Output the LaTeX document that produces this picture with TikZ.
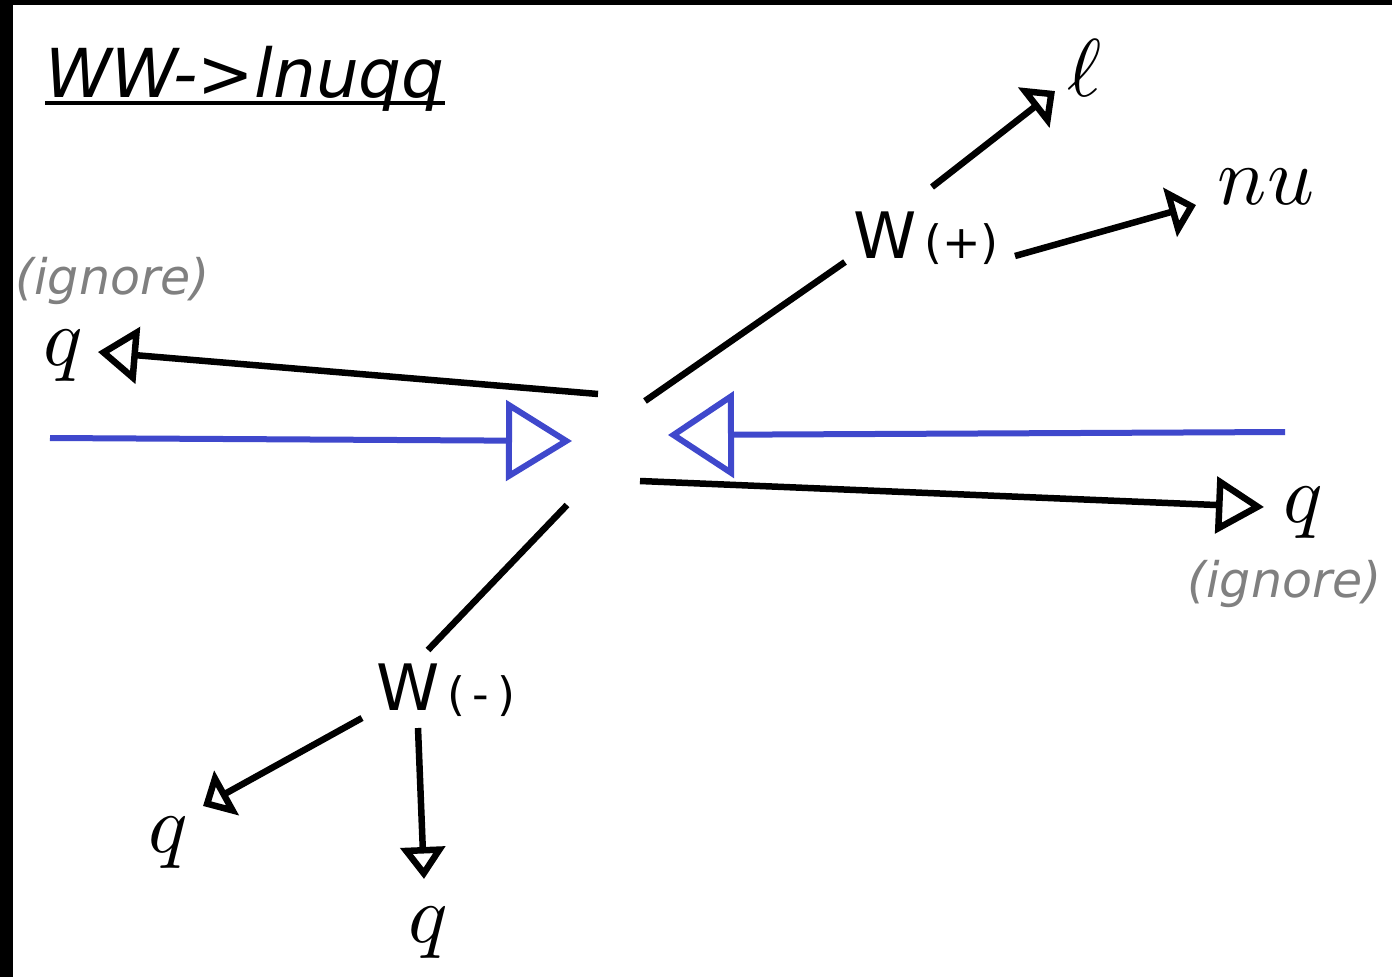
\documentclass[tikz,border=0pt]{standalone}
\usepackage{fontspec}
\setmainfont{DejaVu Sans}
\newfontfamily\lmm{Latin Modern Math}
\usetikzlibrary{arrows.meta}
\definecolor{beamblue}{RGB}{63,72,204}
\definecolor{igngray}{RGB}{128,128,128}
\begin{document}
\begin{tikzpicture}[x=1pt,y=-1pt,
  blk/.style={line width=6.5pt, draw=black},
  blu/.style={line width=6pt, draw=beamblue},
  sym/.style={inner sep=0pt, font=\lmm\fontsize{82}{90}\selectfont},
  ign/.style={inner sep=0pt, anchor=base west, text=igngray, font=\fontsize{49}{58}\selectfont\itshape},
  wnode/.style={inner sep=0pt, anchor=base west, font=\fontsize{64}{72}\selectfont},
  cornerhead/.style={-{Triangle[open,length=27pt,width=50pt]}}]
\useasboundingbox (0,0) rectangle (1392,977);
\fill[black] (0,0) rectangle (1392,977);
\fill[white] (13,5) rectangle (1392,977);

% title
\node[inner sep=0pt, anchor=base west, font=\fontsize{67.5}{80}\selectfont\itshape] (title) at (45,97) {WW->lnuqq};
\draw[line width=4pt] ([yshift=-6pt]title.base west) -- ([yshift=-6pt]title.base east);

% labels
\node[ign] (ign1) at (15,294) {(ignore)};
\node[ign] (ign2) at (1187,597) {(ignore)};
\node[sym] (qL) at (62,355) {𝑞};
\node[sym] (qR) at (1302,512) {𝑞};
\node[sym] (qBL) at (167,842) {𝑞};
\node[sym] (qB) at (427,932) {𝑞};
\node[sym] (ell) at (1085,68) {ℓ};
\node[sym] (nu) at (1266,187) {𝑛𝑢};
\node[wnode] (Wp) at (853,258) {W\fontsize{46}{52}\selectfont\,(+)};
\node[wnode] (Wm) at (376,710) {W\fontsize{46}{52}\selectfont\,(\,-\,)};

% connector ends
\coordinate (c1) at (598,394);  \coordinate (t1) at (98,352);
\coordinate (b1) at (50,438);   \coordinate (b2) at (572,441);
\coordinate (b3) at (1285,432); \coordinate (b4) at (668,435);
\coordinate (c2) at (640,481);  \coordinate (t2) at (1264,507);
\coordinate (c3) at (645,401);  \coordinate (w1) at (845,262);
\coordinate (w2) at (932,187);  \coordinate (t3) at (1055,91);
\coordinate (w3) at (1015,256); \coordinate (t4) at (1196,205);
\coordinate (c4) at (567,505);  \coordinate (m1) at (428,650);
\coordinate (m2) at (362,718);  \coordinate (t5) at (203,806);
\coordinate (m3) at (418,728);  \coordinate (t6) at (424,879);

% beams
\draw[blu, -{Triangle[open,length=66pt,width=80pt]}] (b1) -- (b2);
\draw[blu, -{Triangle[open,length=66pt,width=86pt]}] (b3) -- (b4);

% outgoing particles
\draw[blk, -{Triangle[open,length=40pt,width=56pt]}] (c1) -- (t1);
\draw[blk, -{Triangle[open,length=48pt,width=56pt]}] (c2) -- (t2);
\draw[blk] (c3) -- (w1);
\draw[blk, cornerhead] (w2) -- (t3);
\draw[blk, cornerhead] (w3) -- (t4);
\draw[blk] (c4) -- (m1);
\draw[blk, cornerhead] (m2) -- (t5);
\draw[blk, -{Triangle[open,length=32pt,width=44pt]}] (m3) -- (t6);
\end{tikzpicture}
\end{document}
